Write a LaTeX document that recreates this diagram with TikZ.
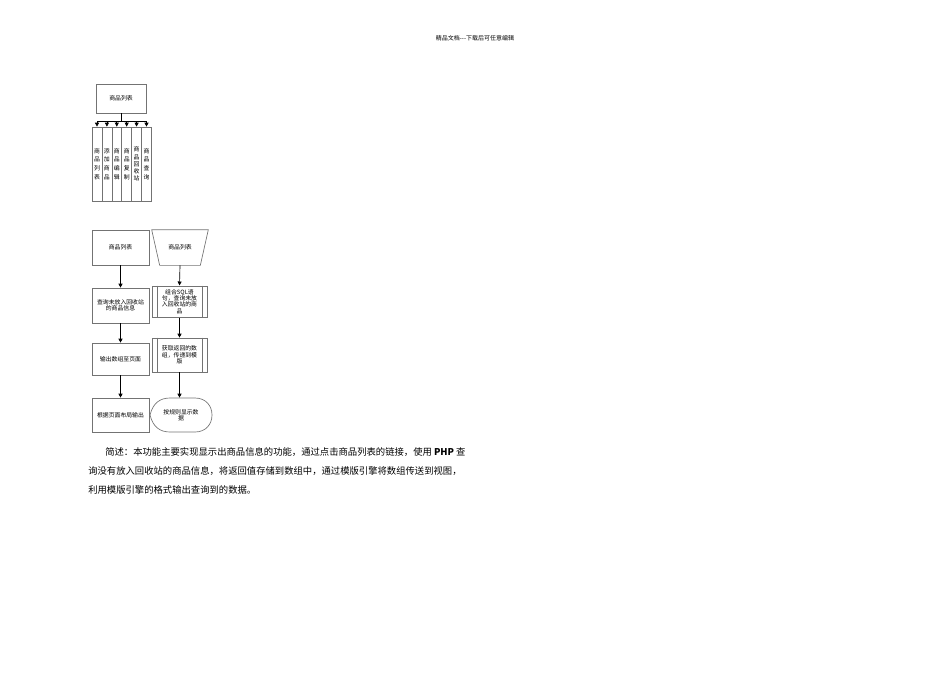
\documentclass[tikz,border=0pt]{standalone}
\usepackage{fontspec}
\setmainfont{Noto Sans CJK SC}
\usetikzlibrary{shapes.geometric,arrows.meta,calc}
\begin{document}
\begin{tikzpicture}[x=0.75pt,y=-0.75pt,
  box/.style={draw=black!55, line width=0.5pt, inner sep=0pt, align=center,
    font=\fontsize{4.4}{4.8}\selectfont},
  col/.style={box, minimum width=7.4pt, minimum height=55.5pt,
    font=\fontsize{4.4}{6.6}\selectfont},
  arr/.style={-{Triangle[length=3pt,width=3pt]}, line width=0.5pt},
  ln/.style={line width=0.5pt},
  para/.style={anchor=west, inner sep=0pt, font=\fontsize{7}{8}\selectfont}]
\useasboundingbox (0,0) rectangle (950,672);

\node[font=\fontsize{4.5}{5}\selectfont] (hdr) at (475,38) {精品文档{-}{-}{-}下载后可任意编辑};

% top module chart
\node[box, minimum width=37.5pt, minimum height=21.75pt] (top) at (121,98.5) {商品列表};
\node[col] (c1) at (97,164) {商\\品\\列\\表};
\node[col] (c2) at (106.9,164) {添\\加\\商\\品};
\node[col] (c3) at (116.8,164) {商\\品\\编\\辑};
\node[col] (c4) at (126.7,164) {商\\品\\复\\制};
\node[col, font=\fontsize{4.4}{5.4}\selectfont] (c5) at (136.6,164) {商\\品\\回\\收\\站};
\node[col] (c6) at (146.5,164) {商\\品\\查\\询};
\coordinate (bus) at (121,121);
\draw[ln] (top.south) -- (top.south |- bus);
\draw[ln] (c1.north |- bus) -- (c6.north |- bus);
\foreach \i in {1,...,6} \draw[arr] (c\i.north |- bus) -- (c\i.north);

% left flow
\node[box, minimum width=42.75pt, minimum height=26.25pt] (l1) at (120.5,247.5) {商品列表};
\node[box, minimum width=42.75pt, minimum height=26.25pt] (l2) at (120.5,305.5) {查询未放入回收站\\的商品信息};
\node[box, minimum width=42.75pt, minimum height=24pt] (l3) at (120.5,359) {输出数组至页面};
\node[box, minimum width=42.75pt, minimum height=25.5pt] (l4) at (120.5,415) {根据页面布局输出};
\draw[arr] (l1) -- (l2);
\draw[arr] (l2) -- (l3);
\draw[arr] (l3) -- (l4);

% right flow
\node[box, draw=none, minimum width=42pt, minimum height=26.25pt] (r1) at (180,247.5) {商品列表};
\draw[ln, draw=black!55] (r1.north west) -- (r1.north east) -- ($(r1.south east)+(-8,0)$)
  -- ($(r1.south west)+(8,0)$) -- cycle;
\node[box, minimum width=41.25pt, minimum height=23.5pt] (r2) at (179.5,301.5) {组合SQL语\\句，查询未放\\入回收站的商\\品};
\node[box, minimum width=41.25pt, minimum height=25.5pt] (r3) at (179.5,355) {获取返回的数\\组，传递到模\\版};
\foreach \n in {r2,r3} {
  \draw[ln, draw=black!55] ($(\n.north west)+(5.5,0)$) -- ($(\n.south west)+(5.5,0)$);
  \draw[ln, draw=black!55] ($(\n.north east)+(-5.5,0)$) -- ($(\n.south east)+(-5.5,0)$);
}
\node[box, draw=none, minimum width=46.5pt, minimum height=25.5pt] (r4) at (181,415) {按规则显示数\\据};
\draw[ln, draw=black!55] ($(r4)+(-31,0)$) .. controls ($(r4)+(-28,-12)$) and ($(r4)+(-21,-17)$) .. ($(r4)+(-11,-17)$)
  -- ($(r4)+(14,-17)$) .. controls ($(r4)+(25,-17)$) and ($(r4)+(31,-9)$) .. ($(r4)+(31,0)$)
  .. controls ($(r4)+(31,9)$) and ($(r4)+(25,17)$) .. ($(r4)+(14,17)$)
  -- ($(r4)+(-11,17)$) .. controls ($(r4)+(-21,17)$) and ($(r4)+(-28,12)$) .. ($(r4)+(-31,0)$);
\draw[arr] (r1.south) -- (r2.north);
\draw[arr] (r2) -- (r3);
\draw[arr] (r3.south) -- (r3.south |- r4.north);

% paragraph
\node[para] (p1) at (105,452) {简述：本功能主要实现显示出商品信息的功能，通过点击商品列表的链接，使用 \textbf{PHP} 查};
\node[para] (p2) at (88,471) {询没有放入回收站的商品信息，将返回值存储到数组中，通过模版引擎将数组传送到视图，};
\node[para] (p3) at (88,490) {利用模版引擎的格式输出查询到的数据。};
\end{tikzpicture}
\end{document}
